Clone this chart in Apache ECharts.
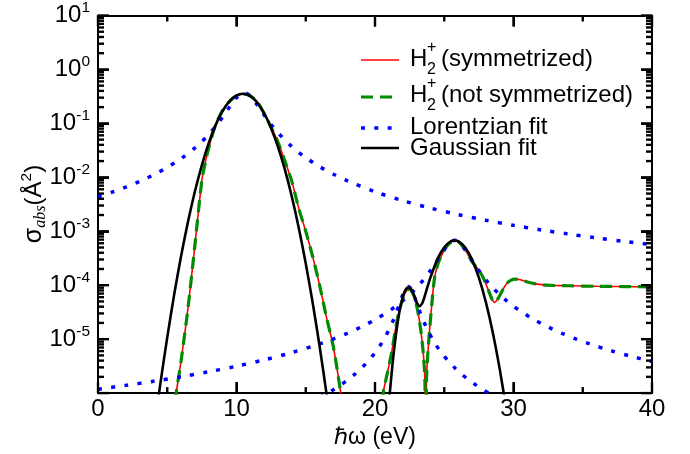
<!DOCTYPE html>
<html>
<head>
<meta charset="utf-8">
<script src="https://cdn.jsdelivr.net/npm/echarts@6/dist/echarts.min.js"></script>
<style>
  html, body { margin: 0; padding: 0; background: #fff; }
  #chart { width: 690px; height: 454px; }
</style>
</head>
<body>
<div id="chart"></div>
<script>
// Photoabsorption cross-section of H2+ : [photon energy (eV), sigma_abs (Å^2)]
const symmetrized = [
  [5.4, 3.2e-7], [5.65, 1.02e-6], [6.0, 3.98e-6], [6.5, 3.80e-5], [7.0, 5.62e-4],
  [7.5, 8.91e-3], [7.75, 1.91e-2], [8.0, 3.55e-2], [8.5, 9.55e-2], [9.0, 0.174],
  [9.5, 0.257], [10.0, 0.324], [10.5, 0.351], [11.0, 0.324], [11.5, 0.251],
  [12.0, 0.151], [12.5, 8.51e-2], [13.0, 4.47e-2], [13.5, 2.0e-2], [14.0, 8.32e-3],
  [14.5, 2.63e-3], [15.0, 1.0e-3], [15.5, 3.39e-4], [16.0, 1.0e-4], [16.5, 2.51e-5],
  [17.0, 7.08e-6], [17.5, 1.12e-6], [17.8, 3.2e-7],
  [20.4, 4.0e-7], [20.6, 1.05e-6], [20.9, 2.40e-6], [21.2, 5.62e-6], [21.5, 1.66e-5],
  [21.75, 3.39e-5], [22.0, 5.50e-5], [22.2, 7.41e-5], [22.45, 8.51e-5], [22.7, 7.41e-5],
  [22.9, 5.37e-5], [23.1, 3.16e-5], [23.3, 1.51e-5], [23.5, 5.01e-6], [23.6, 1.78e-6],
  [23.66, 1.0e-7], [23.72, 1.78e-6], [23.8, 4.79e-6], [23.95, 1.58e-5], [24.1, 4.37e-5],
  [24.3, 1.38e-4], [24.55, 2.51e-4], [24.8, 3.55e-4], [25.1, 4.90e-4], [25.4, 6.03e-4],
  [25.75, 6.76e-4], [26.1, 6.17e-4], [26.6, 4.17e-4], [27.0, 2.75e-4], [27.3, 2.19e-4],
  [27.6, 1.74e-4], [27.9, 1.23e-4], [28.2, 7.94e-5], [28.45, 5.50e-5], [28.62, 4.79e-5],
  [28.8, 5.25e-5], [29.05, 6.76e-5], [29.3, 8.91e-5], [29.55, 1.10e-4], [29.8, 1.23e-4],
  [30.1, 1.30e-4], [30.5, 1.26e-4], [31.0, 1.15e-4], [31.5, 1.07e-4], [32.4, 1.0e-4],
  [34.0, 9.77e-5], [36.0, 9.55e-5], [38.0, 9.44e-5], [40.0, 9.33e-5]
];

const notSymmetrized = [
  [5.4, 3.2e-7], [5.65, 1.02e-6], [6.0, 3.98e-6], [6.5, 3.80e-5], [7.0, 5.62e-4],
  [7.5, 8.91e-3], [7.75, 1.91e-2], [8.0, 3.55e-2], [8.5, 9.55e-2], [9.0, 0.174],
  [9.5, 0.257], [10.0, 0.324], [10.5, 0.351], [11.0, 0.324], [11.5, 0.251],
  [12.0, 0.151], [12.5, 8.51e-2], [13.0, 4.47e-2], [13.5, 2.0e-2], [14.0, 8.32e-3],
  [14.5, 2.63e-3], [15.0, 1.0e-3], [15.5, 3.39e-4], [16.0, 1.0e-4], [16.5, 2.51e-5],
  [17.0, 7.08e-6], [17.5, 1.12e-6], [17.8, 3.2e-7],
  [20.4, 4.0e-7], [20.6, 1.05e-6], [20.9, 2.40e-6], [21.2, 5.62e-6], [21.5, 1.66e-5],
  [21.75, 3.39e-5], [22.0, 5.50e-5], [22.2, 7.41e-5], [22.45, 8.51e-5], [22.7, 7.41e-5],
  [22.9, 5.37e-5], [23.1, 3.16e-5], [23.3, 1.51e-5], [23.5, 5.01e-6], [23.6, 1.78e-6],
  [23.66, 1.0e-7], [23.72, 1.78e-6], [23.8, 4.79e-6], [23.95, 1.58e-5], [24.1, 4.37e-5],
  [24.3, 1.38e-4], [24.55, 2.51e-4], [24.8, 3.55e-4], [25.1, 4.90e-4], [25.4, 6.03e-4],
  [25.75, 6.76e-4], [26.1, 6.17e-4], [26.6, 4.17e-4], [27.0, 2.75e-4], [27.3, 2.19e-4],
  [27.6, 1.74e-4], [27.9, 1.23e-4], [28.2, 7.94e-5], [28.45, 5.50e-5], [28.62, 4.79e-5],
  [28.8, 5.25e-5], [29.05, 6.76e-5], [29.3, 8.91e-5], [29.55, 1.10e-4], [29.8, 1.23e-4],
  [30.1, 1.30e-4], [30.5, 1.26e-4], [31.0, 1.15e-4], [31.5, 1.07e-4], [32.4, 1.0e-4],
  [34.0, 9.77e-5], [36.0, 9.55e-5], [38.0, 9.44e-5], [40.0, 9.33e-5]
];

// Lorentzian fit, one curve per absorption peak
const lorentzMain = [
  [0, 4.34e-3], [1, 5.29e-3], [2, 6.57e-3], [3, 8.39e-3], [4, 1.106e-2], [5, 1.523e-2],
  [6, 2.222e-2], [7, 3.51e-2], [7.5, 4.61e-2], [8, 6.25e-2], [8.5, 8.85e-2], [9, 0.1313],
  [9.5, 0.2018], [10, 0.301], [10.25, 0.346], [10.55, 0.37], [10.75, 0.359], [11, 0.321],
  [11.5, 0.220], [12, 0.1429], [12.5, 0.0955], [13, 0.0668], [14, 0.037], [15, 0.02317],
  [16, 0.01577], [17, 0.0114], [18, 8.61e-3], [20, 5.40e-3], [22, 3.70e-3], [24, 2.69e-3],
  [26, 2.04e-3], [28, 1.60e-3], [30, 1.289e-3], [32, 1.060e-3], [34, 8.88e-4],
  [36, 7.54e-4], [38, 6.48e-4], [40, 5.63e-4]
];

const lorentzSecond = [
  [16, 8.28e-7], [16.5, 9.72e-7], [17, 1.159e-6], [17.5, 1.403e-6], [18, 1.734e-6],
  [18.5, 2.197e-6], [19, 2.87e-6], [19.5, 3.90e-6], [20, 5.59e-6], [20.5, 8.61e-6],
  [21, 1.475e-5], [21.25, 2.03e-5], [21.5, 2.92e-5], [21.75, 4.37e-5], [22, 6.58e-5],
  [22.2, 8.55e-5], [22.4, 9.5e-5], [22.6, 8.55e-5], [22.8, 6.58e-5], [23.05, 4.37e-5],
  [23.3, 2.92e-5], [23.55, 2.03e-5], [23.8, 1.475e-5], [24.3, 8.61e-6], [24.8, 5.59e-6],
  [25.3, 3.90e-6], [25.8, 2.87e-6], [26.3, 2.197e-6], [26.8, 1.734e-6], [27.3, 1.403e-6],
  [27.8, 1.159e-6], [28.3, 9.72e-7], [28.8, 8.28e-7]
];

const lorentzThird = [
  [0, 1.183e-6], [2, 1.390e-6], [4, 1.657e-6], [6, 2.008e-6], [8, 2.484e-6],
  [10, 3.153e-6], [12, 4.131e-6], [14, 5.643e-6], [16, 8.163e-6], [17, 1.010e-5],
  [18, 1.283e-5], [19, 1.683e-5], [20, 2.297e-5], [21, 3.314e-5], [21.5, 4.089e-5],
  [22, 5.163e-5], [22.5, 6.706e-5], [23, 9.014e-5], [23.5, 1.264e-4], [24, 1.863e-4],
  [24.5, 2.891e-4], [25, 4.574e-4], [25.25, 5.591e-4], [25.5, 6.451e-4], [25.75, 6.8e-4],
  [26, 6.451e-4], [26.25, 5.591e-4], [26.5, 4.574e-4], [27, 2.891e-4], [27.5, 1.863e-4],
  [28, 1.264e-4], [28.5, 9.014e-5], [29, 6.706e-5], [29.5, 5.163e-5], [30, 4.089e-5],
  [30.5, 3.314e-5], [31.5, 2.297e-5], [32.5, 1.683e-5], [33.5, 1.283e-5], [34.5, 1.010e-5],
  [35.5, 8.163e-6], [37, 6.154e-6], [38.5, 4.799e-6], [40, 3.848e-6]
];

// Gaussian fit (sum of the three peaks)
const gaussianFit = [
  [3.5, 1.6e-8], [4.0, 1.7e-7], [4.5, 1.48e-6], [5.0, 1.08e-5], [5.5, 6.70e-5],
  [6.0, 3.47e-4], [6.5, 1.51e-3], [7.0, 5.51e-3], [7.5, 1.69e-2], [8.0, 4.35e-2],
  [8.5, 9.38e-2], [9.0, 0.170], [9.5, 0.259], [10.0, 0.330], [10.45, 0.355],
  [11.0, 0.319], [11.5, 0.241], [12.0, 0.153], [12.5, 8.15e-2], [13.0, 3.65e-2],
  [13.5, 1.37e-2], [14.0, 4.31e-3], [14.5, 1.14e-3], [15.0, 2.53e-4], [15.5, 4.72e-5],
  [16.0, 7.38e-6], [16.5, 9.68e-7], [17.0, 1.07e-7],
  [20.75, 9.2e-8], [21.0, 6.28e-7], [21.25, 3.15e-6], [21.5, 1.152e-5], [21.75, 3.07e-5],
  [22.0, 5.99e-5], [22.2, 8.15e-5], [22.4, 9.11e-5], [22.6, 8.45e-5], [22.8, 6.69e-5],
  [23.0, 4.92e-5], [23.2, 4.09e-5], [23.4, 4.58e-5], [23.6, 6.40e-5], [23.8, 9.49e-5],
  [24.0, 1.383e-4], [24.5, 3.009e-4], [25.0, 5.05e-4], [25.5, 6.55e-4], [25.75, 6.76e-4],
  [26.0, 6.55e-4], [26.5, 5.05e-4], [27.0, 3.009e-4], [27.5, 1.383e-4], [28.0, 4.91e-5],
  [28.5, 1.343e-5], [29.0, 2.84e-6], [29.5, 4.6e-7], [30.0, 5.9e-8]
];

const legendLabels = ['(symmetrized)', '(not symmetrized)', 'Lorentzian fit', 'Gaussian fit'];

const X_MIN = 0, X_MAX = 40;
const Y_MIN = 1e-6, Y_MAX = 10;

const FONT = 'Liberation Sans';
const BLACK = '#000000';
const RED = '#ff0000';
const GREEN = '#008b00';
const BLUE = '#0000ff';

// inward frame ticks: [energy or sigma value, 1 = major / 0 = minor]
const xTicks = [];
for (let x = X_MIN; x <= X_MAX; x += 5) xTicks.push([x, Y_MIN, x % 10 === 0 ? 1 : 0]);
const yTicks = [];
for (let e = -6; e <= 1; e++) {
  for (let k = 1; k <= (e < 1 ? 9 : 1); k++) yTicks.push([X_MIN, k * Math.pow(10, e), k === 1 ? 1 : 0]);
}
const MAJOR = 11, MINOR = 6, TICK_W = 2.4;

// ticks are drawn as small filled bars
function bar(x, y, w, h) {
  return { type: 'rect', shape: { x: x, y: y, width: w, height: h }, style: { fill: BLACK } };
}

function segment(x1, y1, x2, y2, color, width, dash) {
  const style = { stroke: color, lineWidth: width };
  if (dash) style.lineDash = dash;
  return { type: 'line', silent: true, z: 100, shape: { x1: x1, y1: y1, x2: x2, y2: y2 }, style: style };
}

function label(text, x, y, size) {
  return { type: 'text', x: x, y: y, z: 100, style: { text: text, fontSize: size, fontFamily: FONT, fill: BLACK, verticalAlign: 'middle' } };
}

const chart = echarts.init(document.getElementById('chart'), null, { renderer: 'canvas' });

const xAxisCommon = {
  type: 'value', min: X_MIN, max: X_MAX, interval: 10,
  axisLine: { show: true, onZero: false, lineStyle: { color: BLACK, width: 2 } },
  axisTick: { show: true, inside: true, length: MAJOR, lineStyle: { color: BLACK, width: 2 } },
  minorTick: { show: false },
  splitLine: { show: false }
};

const yAxisCommon = {
  type: 'log', logBase: 10, min: Y_MIN, max: Y_MAX, splitNumber: 7,
  axisLine: { show: true, onZero: false, lineStyle: { color: BLACK, width: 2 } },
  axisTick: { show: true, inside: true, length: MAJOR, lineStyle: { color: BLACK, width: 2 } },
  splitLine: { show: false }
};

const dottedBlue = { color: BLUE, width: 3.5, type: [4, 9.3], cap: 'butt' };

const LEG = 24;   // legend font size
const legendGraphics = [
  segment(361, 60, 399, 60, RED, 1.6),
  label('H', 410, 59, LEG), label('2', 427, 70, 16), label('+', 427, 48, 16),
  label(legendLabels[0], 441, 59, LEG),

  segment(361, 97, 399, 97, GREEN, 3.2, [12, 7]),
  label('H', 410, 95, LEG), label('2', 427, 106, 16), label('+', 427, 84, 16),
  label(legendLabels[1], 441, 95, LEG),

  segment(361, 128, 399, 128, BLUE, 3.5, [4, 9.3]),
  label(legendLabels[2], 410, 127, LEG),

  segment(361, 148, 399, 148, BLACK, 2.6),
  label(legendLabels[3], 410, 148, LEG)
];

const yTitle = {
  type: 'text', x: 34, y: 204, rotation: Math.PI / 2, z: 100,
  style: {
    text: '{g|σ}{sub|abs}{p|(Å}{sup|2}{p|)}',
    align: 'center', verticalAlign: 'middle', fill: BLACK,
    rich: {
      g: { fontSize: 25, fontFamily: FONT, lineHeight: 30 },
      sub: { fontSize: 16, fontFamily: 'Liberation Serif', fontStyle: 'italic', lineHeight: 14, verticalAlign: 'bottom' },
      p: { fontSize: 24, fontFamily: FONT, lineHeight: 30 },
      sup: { fontSize: 15.5, fontFamily: FONT, lineHeight: 14, verticalAlign: 'top' }
    }
  }
};

const option = {
  animation: false,
  backgroundColor: '#ffffff',
  grid: { left: 98, top: 10, width: 554, height: 388.5, containLabel: false },
  xAxis: [
    Object.assign({}, xAxisCommon, {
      position: 'bottom',
      axisLabel: { color: BLACK, fontSize: 24, fontFamily: FONT, margin: 4 },
      name: 'ℏω (eV)', nameLocation: 'middle', nameGap: 28,
      nameTextStyle: { color: BLACK, fontSize: 23, fontFamily: FONT, verticalAlign: 'top' }
    }),
    Object.assign({}, xAxisCommon, { position: 'top', axisLabel: { show: false } })
  ],
  yAxis: [
    Object.assign({}, yAxisCommon, {
      position: 'left',
      axisLabel: {
        margin: 8, color: BLACK,
        formatter: function (v) {
          const e = Math.round(Math.log10(v));
          if (e <= -6) return '';
          return '{b|10}{s|' + e + '}';
        },
        rich: {
          b: { fontSize: 24, fontFamily: FONT, color: BLACK, lineHeight: 31 },
          s: { fontSize: 15.5, fontFamily: FONT, color: BLACK, lineHeight: 16, verticalAlign: 'top' }
        }
      }
    }),
    Object.assign({}, yAxisCommon, { position: 'right', axisLabel: { show: false } })
  ],
  series: [
    {
      name: 'H2+ (symmetrized)', type: 'line', data: symmetrized, smooth: 0.25,
      showSymbol: false, clip: true, z: 2,
      lineStyle: { color: RED, width: 1.6 }
    },
    {
      name: 'H2+ (not symmetrized)', type: 'line', data: notSymmetrized, smooth: 0.25,
      showSymbol: false, clip: true, z: 3,
      lineStyle: { color: GREEN, width: 3.2, type: [12, 7] }
    },
    {
      name: 'Lorentzian fit', type: 'line', data: lorentzMain, smooth: 0.3,
      showSymbol: false, clip: true, z: 4, lineStyle: dottedBlue
    },
    {
      name: 'Lorentzian fit', type: 'line', data: lorentzSecond, smooth: 0.3,
      showSymbol: false, clip: true, z: 4, lineStyle: dottedBlue
    },
    {
      name: 'Lorentzian fit', type: 'line', data: lorentzThird, smooth: 0.3,
      showSymbol: false, clip: true, z: 4, lineStyle: dottedBlue
    },
    {
      name: 'Gaussian fit', type: 'line', data: gaussianFit, smooth: 0.25,
      showSymbol: false, clip: true, z: 5,
      lineStyle: { color: BLACK, width: 2.6 }
    },
    {
      // ticks on the bottom and top frame, every 5 eV
      type: 'custom', z: 20, data: xTicks,
      renderItem: function (params, api) {
        const x = api.value(0);
        const len = api.value(2) ? MAJOR : MINOR;
        const b = api.coord([x, Y_MIN]);
        const t = api.coord([x, Y_MAX]);
        return { type: 'group', children: [
          bar(b[0] - TICK_W / 2, b[1] - len, TICK_W, len),
          bar(t[0] - TICK_W / 2, t[1], TICK_W, len)
        ] };
      }
    },
    {
      // ticks on the left and right frame, decades and 2..9 subdivisions
      type: 'custom', z: 20, data: yTicks,
      renderItem: function (params, api) {
        const v = api.value(1);
        const len = api.value(2) ? MAJOR : MINOR;
        const l = api.coord([X_MIN, v]);
        const r = api.coord([X_MAX, v]);
        return { type: 'group', children: [
          bar(l[0], l[1] - TICK_W / 2, len, TICK_W),
          bar(r[0] - len, r[1] - TICK_W / 2, len, TICK_W)
        ] };
      }
    }
  ],
  graphic: [yTitle].concat(legendGraphics)
};

chart.setOption(option);
</script>
</body>
</html>
